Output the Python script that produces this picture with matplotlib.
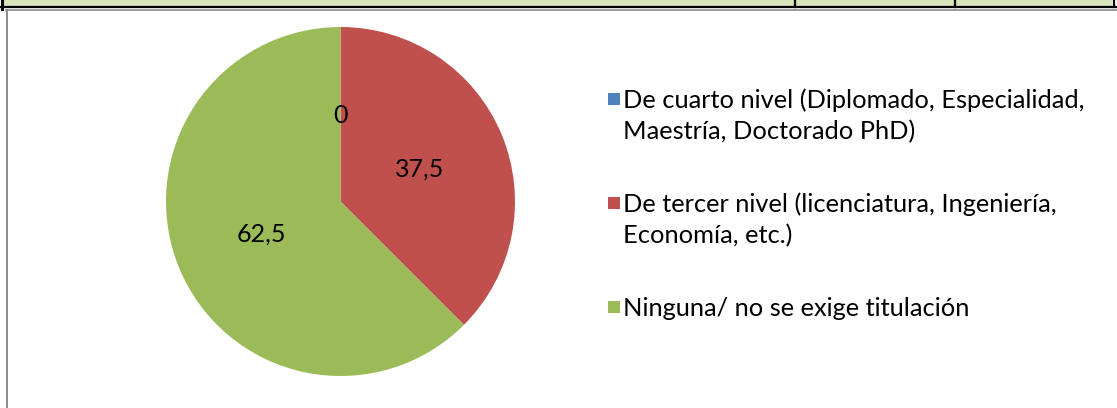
import matplotlib.pyplot as plt
from matplotlib.patches import Rectangle
from matplotlib.lines import Line2D

W, H = 1117, 408

categorias = [
    "De cuarto nivel (Diplomado, Especialidad,\nMaestría, Doctorado PhD)",
    "De tercer nivel (licenciatura, Ingeniería,\nEconomía, etc.)",
    "Ninguna/ no se exige titulación",
]
valores = [0, 37.5, 62.5]
colores = ["#4F81BD", "#C0504D", "#9BBB59"]

plt.rcParams['font.family'] = ['Lato', 'DejaVu Sans']


def fx(x):
    return x / W


def fy(y):
    return 1 - y / H


fig = plt.figure(figsize=(W / 100, H / 100), dpi=100)

# trozo de tabla arriba
fig.add_artist(Rectangle((fx(3), fy(6.5)), fx(1112) - fx(3), fy(0) - fy(6.5),
                         transform=fig.transFigure, facecolor="#D8E4BC", edgecolor="none"))
fig.add_artist(Line2D([fx(0), fx(1117)], [fy(7), fy(7)], transform=fig.transFigure,
                      color="black", lw=1.6))
fig.add_artist(Line2D([fx(1.5), fx(1.5)], [fy(0), fy(9)], transform=fig.transFigure,
                      color="black", lw=2.2))
for xv in [795, 955, 1114]:
    fig.add_artist(Line2D([fx(xv), fx(xv)], [fy(0), fy(7)], transform=fig.transFigure,
                          color="black", lw=1.6))
# marco gris del grafico
fig.add_artist(Line2D([fx(6), fx(1117)], [fy(9.5), fy(9.5)], transform=fig.transFigure,
                      color="#8C8C8C", lw=1.2))
fig.add_artist(Line2D([fx(7), fx(7)], [fy(9.5), fy(408)], transform=fig.transFigure,
                      color="#8C8C8C", lw=1.4))

# pastel
cx, cy, r = 340.5, 201.5, 174.5
ax = fig.add_axes([fx(cx - r), fy(cy + r), 2 * r / W, 2 * r / H])
ax.pie(valores, colors=colores, startangle=90, counterclock=False,
       autopct=lambda p: f"{p:g}".replace('.', ','), pctdistance=0.49,
       wedgeprops=dict(linewidth=0), textprops=dict(fontsize=18, color="black"))
ax.set_xlim(-1, 1)
ax.set_ylim(-1, 1)

# leyenda
for i, (lab, col) in enumerate(zip(categorias, colores)):
    base = 108 + 104 * i
    fig.add_artist(Rectangle((fx(608), fy(base - 3)), fx(620) - fx(608), fy(base - 15) - fy(base - 3),
                             transform=fig.transFigure, facecolor=col, edgecolor="none"))
    for j, linea in enumerate(lab.split("\n")):
        fig.text(fx(623), fy(base + 31 * j), linea, fontsize=18.3, va="baseline", ha="left",
                 color="black")

fig.savefig("out.png", dpi=100)
